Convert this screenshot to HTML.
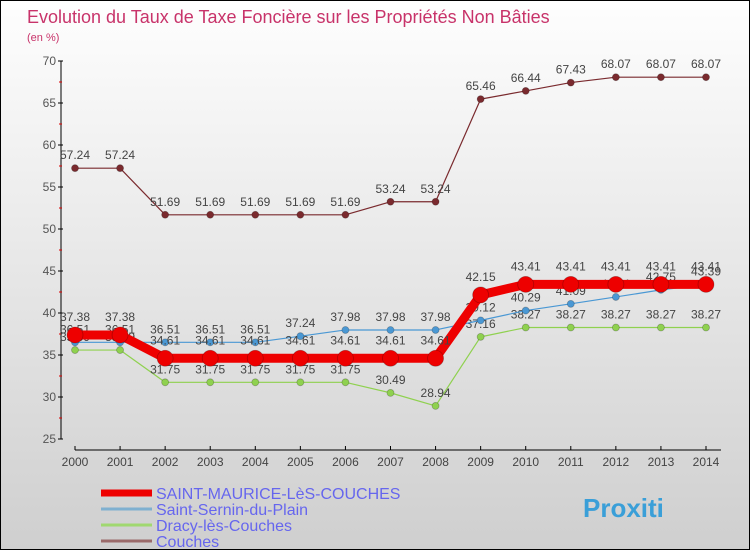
<!DOCTYPE html>
<html><head><meta charset="utf-8"><style>
body{margin:0;}
#wrap{width:748px;height:548px;border:1px solid #000;background:linear-gradient(#fefefe,#cfcfcf);position:relative;overflow:hidden;font-family:"Liberation Sans",sans-serif;}
svg text{font-family:"Liberation Sans",sans-serif;}
</style></head><body>
<div id="wrap">
<svg id="chart" width="748" height="548"></svg>
</div>
<script>
const years=[2000,2001,2002,2003,2004,2005,2006,2007,2008,2009,2010,2011,2012,2013,2014];
const smValues=[37.38,37.38,34.61,34.61,34.61,34.61,34.61,34.61,34.61,42.15,43.41,43.41,43.41,43.41,43.41];
const ssValues=[36.51,36.51,36.51,36.51,36.51,37.24,37.98,37.98,37.98,39.12,40.29,41.09,41.91,42.75,43.39];
const drValues=[35.59,35.59,31.75,31.75,31.75,31.75,31.75,30.49,28.94,37.16,38.27,38.27,38.27,38.27,38.27];
const coValues=[57.24,57.24,51.69,51.69,51.69,51.69,51.69,53.24,53.24,65.46,66.44,67.43,68.07,68.07,68.07];
const yTicks=[25,30,35,40,45,50,55,60,65,70];
const seriesNames=["SAINT-MAURICE-LèS-COUCHES","Saint-Sernin-du-Plain","Dracy-lès-Couches","Couches"];

const NS="http://www.w3.org/2000/svg";
const svg=document.getElementById('chart');
function x(i){return 74+i*(705-74)/(years.length-1);}
function y(v){return 60+(70-v)*(438-60)/45;}
function mk(tag,attrs,parent){const e=document.createElementNS(NS,tag);for(const k in attrs)e.setAttribute(k,attrs[k]);(parent||svg).appendChild(e);return e;}

let t=mk('text',{x:26,y:22,fill:'#c8336a','font-size':18});t.textContent='Evolution du Taux de Taxe Foncière sur les Propriétés Non Bâties';


t=mk('text',{x:26,y:40,fill:'#c8336a','font-size':11});t.textContent='(en %)';



let a=mk('line',{x1:60,y1:y(70),x2:60,y2:y(25),stroke:'#000'});


for(const v of yTicks){
 mk('line',{x1:57,y1:y(v),x2:62,y2:y(v),stroke:'#000'});
 const l=mk('text',{x:55,y:y(v)+4,'text-anchor':'end','font-size':12,fill:'#555'});l.textContent=v;
 
 
 if(v<70) mk('line',{x1:58,y1:y(v+2.5),x2:61,y2:y(v+2.5),stroke:'#d00'});
}
a=mk('line',{x1:74,y1:449,x2:720,y2:449,stroke:'#000'});


years.forEach((yr,i)=>{
 mk('line',{x1:x(i),y1:445,x2:x(i),y2:449,stroke:'#000'});
 const l=mk('text',{x:x(i),y:465,'text-anchor':'middle','font-size':12,fill:'#444'});l.textContent=yr;
 
 
});

function series(vals,color,w,r,name,labelOffset){
 const g=mk('g',{});
 
 
 mk('polyline',{points:vals.map((v,i)=>x(i)+','+y(v)).join(' '),fill:'none',stroke:color,'stroke-width':w,'stroke-linejoin':'round'},g);
 vals.forEach((v,i)=>{
  const c=mk('circle',{cx:x(i),cy:y(v),r:r,fill:color,stroke:'rgba(0,0,0,0.25)','stroke-width':0.8},g);
  
  
  const l=mk('text',{x:x(i),y:y(v)+labelOffset,'text-anchor':'middle','font-size':12,fill:'#444'},g);l.textContent=v.toFixed(2);
  
  
 });
}
series(coValues,'#7a2a2e',1.2,3.5,'series-couches',-9);
series(drValues,'#8fd14f',1.2,3.5,'series-dracy',-9);
series(ssValues,'#4a98d4',1.2,3.5,'series-saint-sernin',-9);
series(smValues,'#ee0000',9,8,'series-saint-maurice',-14);
const lcolors=['#ee0000','#7fb0d0','#a0d870','#9a6a6a'];
const lw=[7,3,3,3];
seriesNames.forEach((n,i)=>{
 const g=mk('g',{});
 
 
 const yy=492+i*16;
 mk('line',{x1:100,y1:yy,x2:151,y2:yy,stroke:lcolors[i],'stroke-width':lw[i]},g);
 const l=mk('text',{x:155,y:yy+6,'font-size':16,fill:'#6666ee'},g);l.textContent=n;
});
const lg=mk('text',{x:582,y:516,'font-size':26,'font-weight':'bold',fill:'#3a9fd8'});
lg.textContent='Proxiti';


</script>
</body></html>
